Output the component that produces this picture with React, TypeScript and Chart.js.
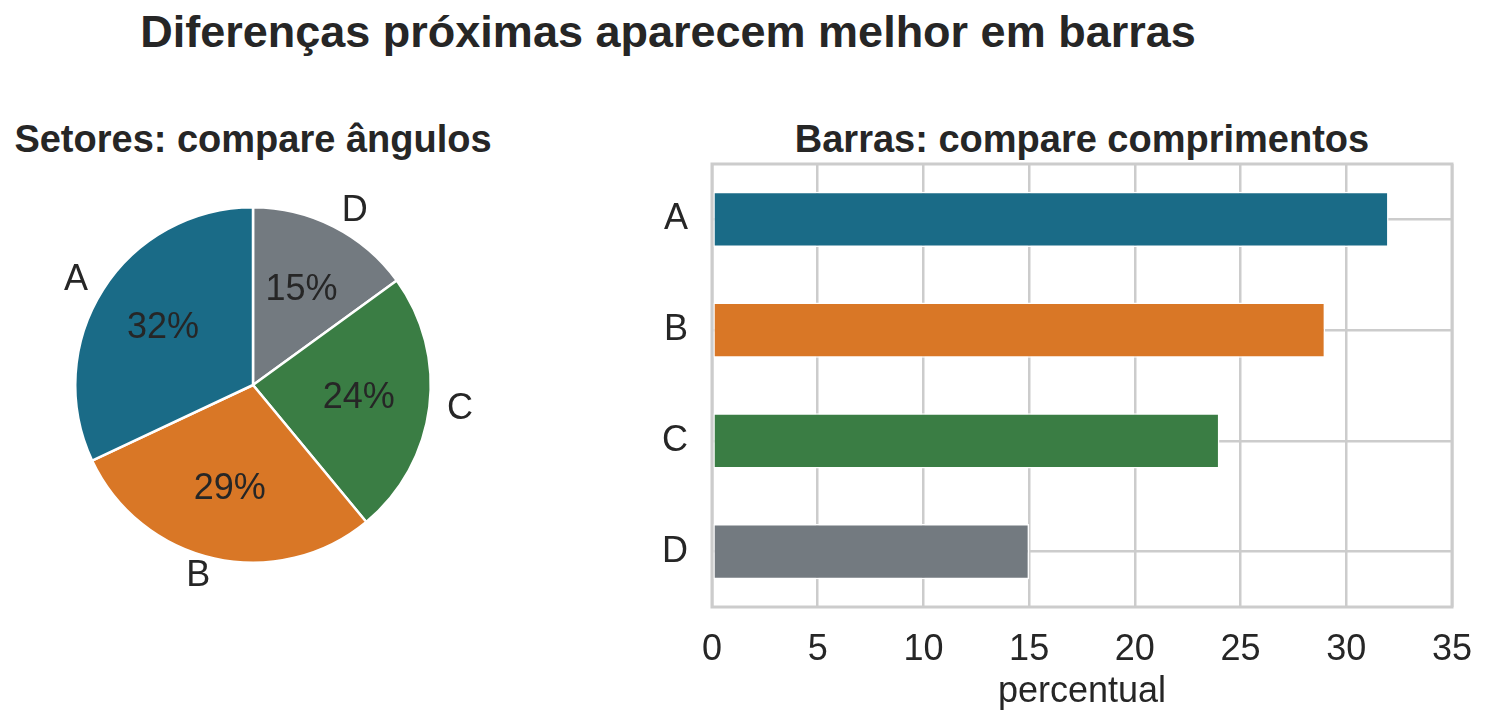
import React, { useEffect, useRef } from 'react';
import { Chart, registerables } from 'chart.js';

Chart.register(...registerables);

// dados
const categories = ['A', 'B', 'C', 'D'];
const shares = [32, 29, 24, 15];
const colors = ['#1a6b87', '#d97726', '#3a7d44', '#737a80'];
const xTicks = [0, 5, 10, 15, 20, 25, 30, 35];

const FONT = '"Liberation Sans", Arial, sans-serif';
const TEXT = '#262626';
const GRID = '#cccccc';
const LABEL_SIZE = 36;

// rótulos do pizza: letra fora, percentual dentro
const pieLabelPlugin = {
  id: 'pieLabels',
  afterDatasetsDraw(chart: any) {
    const ctx = chart.ctx;
    const meta = chart.getDatasetMeta(0);
    const labels = chart.data.labels as string[];
    const values = chart.data.datasets[0].data as number[];
    ctx.save();
    ctx.fillStyle = TEXT;
    ctx.font = `${LABEL_SIZE}px ${FONT}`;
    ctx.textBaseline = 'middle';
    meta.data.forEach((arc: any, i: number) => {
      const { x, y, startAngle, endAngle, outerRadius } = arc.getProps(
        ['x', 'y', 'startAngle', 'endAngle', 'outerRadius'],
        true
      );
      const mid = (startAngle + endAngle) / 2;
      const c = Math.cos(mid);
      const s = Math.sin(mid);
      ctx.textAlign = 'center';
      ctx.fillText(`${Math.round(values[i])}%`, x + c * outerRadius * 0.6, y + s * outerRadius * 0.6);
      ctx.textAlign = c > 0 ? 'left' : 'right';
      ctx.fillText(labels[i], x + c * outerRadius * 1.1, y + s * outerRadius * 1.1);
    });
    ctx.restore();
  },
};

// moldura completa do eixo (estilo whitegrid)
const framePlugin = {
  id: 'frame',
  afterDraw(chart: any) {
    const { left, top, right, bottom } = chart.chartArea;
    const ctx = chart.ctx;
    ctx.save();
    ctx.strokeStyle = GRID;
    ctx.lineWidth = 3;
    ctx.strokeRect(left, top, right - left, bottom - top);
    ctx.restore();
  },
};

const noScalePadding = (scale: any) => {
  scale.paddingTop = 0;
  scale.paddingBottom = 0;
  scale.paddingLeft = 0;
  scale.paddingRight = 0;
};

function PieChart() {
  const ref = useRef<HTMLCanvasElement>(null);
  useEffect(() => {
    if (!ref.current) return;
    // Chart.js gira no sentido horário a partir do topo; o original vai no anti-horário
    const order = [3, 2, 1, 0];
    const chart = new Chart(ref.current, {
      type: 'pie',
      data: {
        labels: order.map((i) => categories[i]),
        datasets: [
          {
            data: order.map((i) => shares[i]),
            backgroundColor: order.map((i) => colors[i]),
            borderColor: '#ffffff',
            borderWidth: 2.5,
          },
        ],
      },
      options: {
        responsive: false,
        maintainAspectRatio: false,
        animation: false,
        layout: { padding: { left: 74, right: 74, top: 46, bottom: 46 } },
        plugins: { legend: { display: false }, tooltip: { enabled: false } },
      },
      plugins: [pieLabelPlugin],
    });
    return () => chart.destroy();
  }, []);
  return <canvas ref={ref} width={506} height={450} style={{ position: 'absolute', left: 0, top: 160, width: 506, height: 450 }} />;
}

function BarChart() {
  const ref = useRef<HTMLCanvasElement>(null);
  useEffect(() => {
    if (!ref.current) return;
    const chart = new Chart(ref.current, {
      type: 'bar',
      data: {
        labels: categories,
        datasets: [
          {
            data: shares,
            backgroundColor: colors,
            borderColor: '#ffffff',
            borderWidth: 1.5,
            borderSkipped: false,
            barPercentage: 0.5,
            categoryPercentage: 1,
          },
        ],
      },
      options: {
        indexAxis: 'y',
        responsive: false,
        maintainAspectRatio: false,
        animation: false,
        layout: { padding: { left: 0, right: 34, top: 14, bottom: 0 } },
        plugins: { legend: { display: false }, tooltip: { enabled: false } },
        scales: {
          x: {
            type: 'linear',
            min: xTicks[0],
            max: xTicks[xTicks.length - 1],
            afterBuildTicks: (scale: any) => {
              scale.ticks = xTicks.map((v) => ({ value: v }));
            },
            afterFit: (scale: any) => {
              scale.height = 117;
              noScalePadding(scale);
            },
            grid: { color: GRID, lineWidth: 2.5, drawTicks: false },
            border: { display: false },
            ticks: { color: TEXT, font: { family: FONT, size: LABEL_SIZE }, padding: 21 },
            title: {
              display: true,
              text: 'percentual',
              color: TEXT,
              font: { family: FONT, size: LABEL_SIZE },
              padding: { top: 0, bottom: 10 },
            },
          },
          y: {
            type: 'category',
            afterFit: (scale: any) => {
              scale.width = 112;
              noScalePadding(scale);
            },
            grid: { color: GRID, lineWidth: 2.5, drawTicks: false, offset: false },
            border: { display: false },
            ticks: { color: TEXT, font: { family: FONT, size: LABEL_SIZE }, padding: 24 },
          },
        },
      },
      plugins: [framePlugin],
    });
    return () => chart.destroy();
  }, []);
  return <canvas ref={ref} width={886} height={574} style={{ position: 'absolute', left: 600, top: 150, width: 886, height: 574 }} />;
}

export default function App() {
  const titleStyle: React.CSSProperties = {
    position: 'absolute',
    fontFamily: FONT,
    fontWeight: 'bold',
    color: TEXT,
    textAlign: 'center',
    whiteSpace: 'nowrap',
    lineHeight: 1,
  };
  return (
    <div style={{ position: 'absolute', left: 0, top: 0, width: 1486, height: 724, background: '#fff', overflow: 'hidden' }}>
      <div style={{ ...titleStyle, left: 0, width: 1336, top: 9, fontSize: 45 }}>
        Diferenças próximas aparecem melhor em barras
      </div>
      <div style={{ ...titleStyle, left: 0, width: 506, top: 120, fontSize: 38 }}>Setores: compare ângulos</div>
      <div style={{ ...titleStyle, left: 712, width: 740, top: 120, fontSize: 38 }}>Barras: compare comprimentos</div>
      <PieChart />
      <BarChart />
    </div>
  );
}
